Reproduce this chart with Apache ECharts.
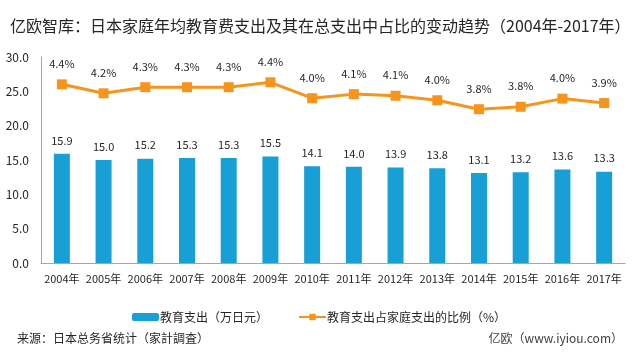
<!DOCTYPE html>
<html>
<head>
<meta charset="utf-8">
<script src="https://cdn.jsdelivr.net/npm/echarts@6/dist/echarts.min.js"></script>
<style>
  html, body { margin: 0; padding: 0; background: #fff; }
  #chart-container { width: 638px; height: 353px; }
</style>
</head>
<body>
<div id="chart-container"></div>
<script>
var years = ['2004年', '2005年', '2006年', '2007年', '2008年', '2009年', '2010年',
  '2011年', '2012年', '2013年', '2014年', '2015年', '2016年', '2017年'];
// 教育支出（万日元）
var eduSpend = [15.9, 15.0, 15.2, 15.3, 15.3, 15.5, 14.1, 14.0, 13.9, 13.8, 13.1, 13.2, 13.6, 13.3];
// 教育支出占家庭支出的比例（%）
var eduShare = [4.38, 4.16, 4.31, 4.31, 4.31, 4.43, 4.04, 4.14, 4.10, 3.99, 3.77, 3.83, 4.03, 3.92];

var font = '"Noto Sans CJK SC", "Noto Sans", sans-serif';
var dom = document.getElementById('chart-container');
var myChart = echarts.init(dom, null, { renderer: 'canvas' });

var option = {
  animation: false,
  textStyle: { fontFamily: font },
  title: [
    {
      text: '亿欧智库：日本家庭年均教育费支出及其在总支出中占比的变动趋势（2004年-2017年）',
      left: 5, top: 13,
      textStyle: { fontSize: 16, fontWeight: 'normal', color: '#262626', fontFamily: font }
    },
    {
      text: '来源：日本总务省统计（家計調査）',
      left: 12, top: 327,
      textStyle: { fontSize: 12, fontWeight: 'normal', color: '#262626', fontFamily: font }
    },
    {
      text: '亿欧（www.iyiou.com）',
      right: 10, top: 327,
      textStyle: { fontSize: 12, fontWeight: 'normal', color: '#404040', fontFamily: font }
    }
  ],
  legend: {
    top: 306,
    left: 'center',
    itemWidth: 27,
    itemHeight: 8,
    itemGap: 30,
    textStyle: { fontSize: 12, color: '#262626', fontFamily: font, padding: [0, 0, 0, -4] },
    data: ['教育支出（万日元）', '教育支出占家庭支出的比例（%）']
  },
  grid: { left: 41, right: 13, top: 57, height: 206, containLabel: false },
  xAxis: {
    type: 'category',
    data: years,
    axisLine: { lineStyle: { color: '#a6a6a6', width: 1 } },
    axisTick: { show: false },
    axisLabel: { fontSize: 11, color: '#262626', margin: 10, interval: 0 }
  },
  yAxis: [
    {
      type: 'value',
      min: 0, max: 30, interval: 5,
      axisLine: { show: true, lineStyle: { color: '#a6a6a6' } },
      axisTick: { show: false },
      splitLine: { show: false },
      axisLabel: {
        fontSize: 12, color: '#262626', margin: 12,
        formatter: function (v) { return v.toFixed(1); }
      }
    },
    {
      type: 'value',
      min: 0, max: 5.05,
      show: false,
      splitLine: { show: false }
    }
  ],
  series: [
    {
      name: '教育支出（万日元）',
      type: 'bar',
      data: eduSpend,
      barWidth: 16,
      itemStyle: { color: '#189fd6' },
      label: {
        show: true, position: 'top', distance: 8,
        fontSize: 11, color: '#262626',
        formatter: function (p) { return p.value.toFixed(1); }
      }
    },
    {
      name: '教育支出占家庭支出的比例（%）',
      type: 'line',
      yAxisIndex: 1,
      data: eduShare,
      symbol: 'rect',
      symbolSize: 10,
      lineStyle: { color: '#f7941d', width: 3 },
      itemStyle: { color: '#f7941d' },
      label: {
        show: true, position: 'top', distance: 10,
        fontSize: 11, color: '#262626',
        formatter: function (p) { return p.value.toFixed(1) + '%'; }
      }
    }
  ]
};

myChart.setOption(option);
window.addEventListener('resize', myChart.resize);
</script>
</body>
</html>
